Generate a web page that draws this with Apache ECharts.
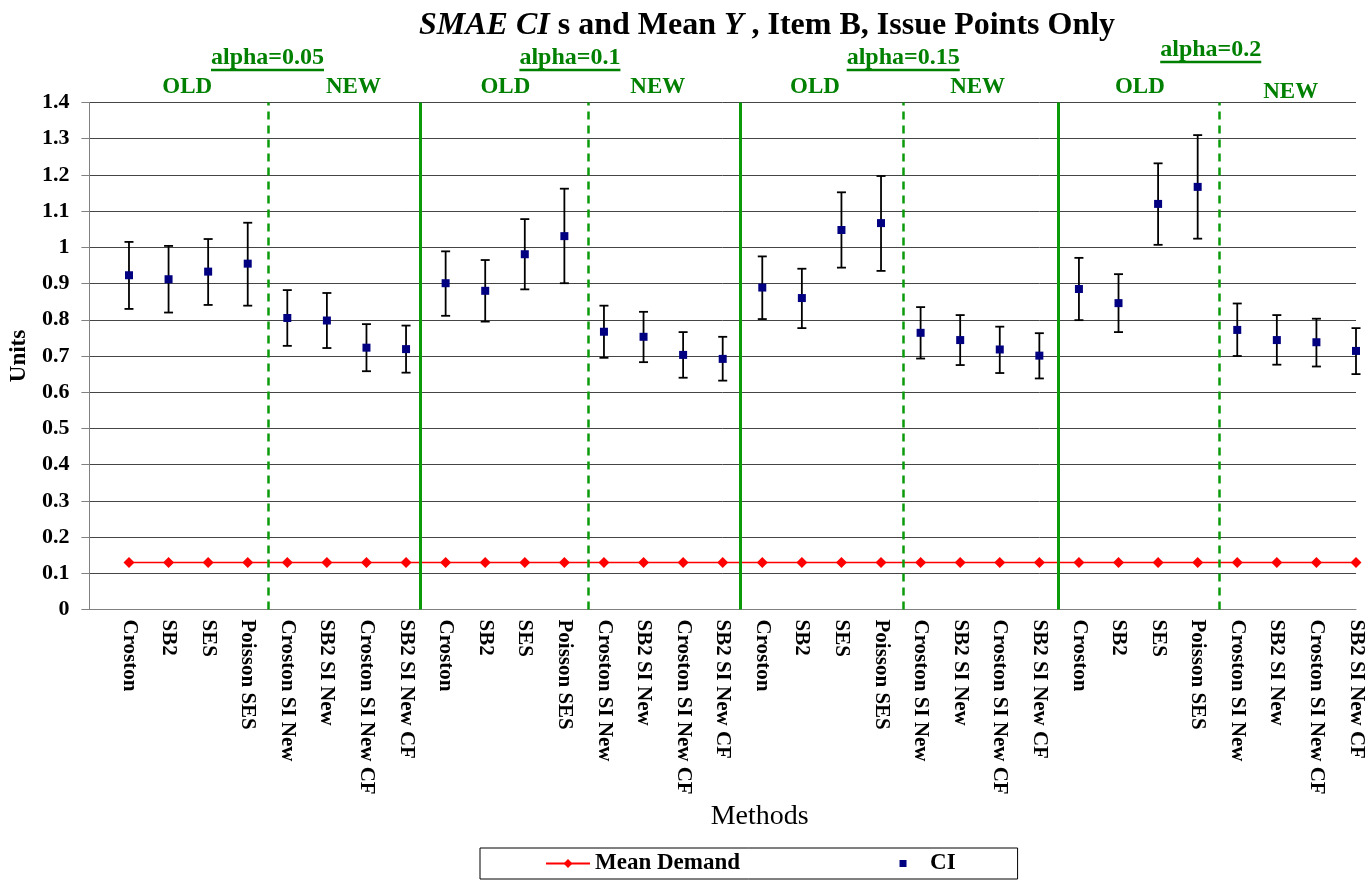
<!DOCTYPE html>
<html>
<head>
<meta charset="utf-8">
<title>SMAE CIs and Mean Y, Item B, Issue Points Only</title>
<script src="https://cdn.jsdelivr.net/npm/echarts@6/dist/echarts.min.js"></script>
<style>
  html, body { margin: 0; padding: 0; background: #ffffff; }
  #chart { width: 1368px; height: 882px; }
</style>
</head>
<body>
<div id="chart"></div>
<script>
// ---- data ----
const methods = ['Croston', 'SB2', 'SES', 'Poisson SES',
                 'Croston SI New', 'SB2 SI New', 'Croston SI New CF', 'SB2 SI New CF'];
const alphas = ['0.05', '0.1', '0.15', '0.2'];
const phases = ['OLD', 'NEW'];
// one category per method within each alpha block
const categories = alphas.flatMap(() => methods);

const meanDemand = [0.13, 0.13, 0.13, 0.13, 0.13, 0.13, 0.13, 0.13,
                    0.13, 0.13, 0.13, 0.13, 0.13, 0.13, 0.13, 0.13,
                    0.13, 0.13, 0.13, 0.13, 0.13, 0.13, 0.13, 0.13,
                    0.13, 0.13, 0.13, 0.13, 0.13, 0.13, 0.13, 0.13];

const ciMean = [0.923, 0.912, 0.933, 0.955, 0.805, 0.798, 0.723, 0.719,
                0.901, 0.880, 0.981, 1.031, 0.767, 0.753, 0.703, 0.692,
                0.889, 0.860, 1.048, 1.067, 0.764, 0.744, 0.718, 0.701,
                0.885, 0.846, 1.120, 1.167, 0.772, 0.744, 0.738, 0.714];
const ciLow  = [0.830, 0.820, 0.841, 0.839, 0.728, 0.722, 0.658, 0.654,
                0.811, 0.795, 0.884, 0.901, 0.695, 0.683, 0.640, 0.632,
                0.802, 0.777, 0.944, 0.935, 0.693, 0.675, 0.653, 0.638,
                0.799, 0.766, 1.007, 1.024, 0.700, 0.676, 0.671, 0.650];
const ciHigh = [1.015, 1.004, 1.023, 1.068, 0.882, 0.874, 0.788, 0.784,
                0.989, 0.965, 1.078, 1.162, 0.839, 0.822, 0.766, 0.753,
                0.975, 0.941, 1.152, 1.197, 0.835, 0.813, 0.781, 0.763,
                0.971, 0.926, 1.232, 1.310, 0.845, 0.813, 0.803, 0.777];

// ---- layout (axis units along x) ----
const oldNewDividers = [4.52, 12.61, 20.57, 28.54];   // dashed
const alphaDividers  = [8.37, 16.45, 24.48];          // solid
const alphaLabelAt   = [4.50, 12.14, 20.56, 28.33];
const alphaLabelY    = [58, 58, 58, 50];
const phaseLabelAt   = [2.47, 6.67, 10.51, 14.36, 18.33, 22.44, 26.54, 30.35];
const phaseLabelY    = [87, 87, 87, 87, 87, 87, 87, 92];

const SERIF = '"Liberation Serif", "Times New Roman", Times, serif';
const GREEN_TEXT = '#008000';
const GREEN_LINE = '#0a9a0a';

const chart = echarts.init(document.getElementById('chart'), null, { renderer: 'canvas' });

const option = {
  animation: false,
  backgroundColor: '#ffffff',
  grid: { left: 88, right: 12, top: 102.5, bottom: 272.5 },
  xAxis: {
    type: 'value',
    min: 0,
    max: 32,
    interval: 1,
    axisLine: { show: true, onZero: false, lineStyle: { color: '#808080', width: 1 } },
    axisTick: { show: false },
    splitLine: { show: false },
    axisLabel: {
      rotate: -90,
      margin: 10,
      fontFamily: SERIF,
      fontWeight: 'bold',
      fontSize: 21,
      color: '#000000',
      padding: [0, 0, 6, 0],
      showMinLabel: false,
      showMaxLabel: true,
      formatter: v => categories[Math.round(v) - 1] || ''
    },
    name: 'Methods',
    nameLocation: 'middle',
    nameGap: 193,
    nameTextStyle: { fontFamily: SERIF, fontSize: 28, color: '#000000', padding: [0, 0, 0, 74] }
  },
  yAxis: {
    type: 'value',
    min: 0,
    max: 1.4,
    interval: 0.1,
    axisLine: { show: true, lineStyle: { color: '#808080', width: 1 } },
    axisTick: { show: true, length: 8, lineStyle: { color: '#808080' } },
    splitLine: { show: true, lineStyle: { color: '#454545', width: 1 } },
    axisLabel: {
      margin: 20,
      fontFamily: SERIF,
      fontWeight: 'bold',
      fontSize: 22,
      color: '#000000',
      formatter: v => String(+v.toFixed(1))
    },
    name: 'Units',
    nameLocation: 'middle',
    nameGap: 55,
    nameRotate: 90,
    nameTextStyle: { fontFamily: SERIF, fontWeight: 'bold', fontSize: 23, color: '#000000' }
  },
  legend: {
    left: 480,
    top: 848,
    orient: 'horizontal',
    selectedMode: false,
    borderColor: '#000000',
    borderWidth: 1,
    padding: [4, 62, 4, 65],
    itemGap: 141,
    itemWidth: 44,
    itemHeight: 11,
    textStyle: { fontFamily: SERIF, fontWeight: 'bold', fontSize: 23, color: '#000000' },
    data: [
      { name: 'Mean Demand' },
      { name: 'CI', icon: 'path://M0,0M44,11M18.5,2h7v7h-7z' }
    ]
  },
  series: [
    {
      name: 'Mean Demand',
      type: 'line',
      data: meanDemand.map((v, i) => [i + 1, v]),
      symbol: 'diamond',
      symbolSize: 11,
      itemStyle: { color: '#ff0000' },
      lineStyle: { color: '#ff0000', width: 1.5 },
      z: 3,
      markLine: {
        silent: true,
        symbol: ['none', 'none'],
        label: { show: false },
        emphasis: { disabled: true },
        data: [
          ...oldNewDividers.map(x => ({ xAxis: x, lineStyle: { color: GREEN_LINE, width: 2.5, type: [8, 6] } })),
          ...alphaDividers.map(x => ({ xAxis: x, lineStyle: { color: GREEN_LINE, width: 3, type: 'solid' } }))
        ]
      }
    },
    {
      name: 'CI range',
      type: 'custom',
      data: ciLow.map((lo, i) => [i + 1, lo, ciHigh[i]]),
      encode: { x: 0, y: [1, 2] },
      z: 4,
      renderItem: (params, api) => {
        const x = api.value(0);
        const lo = api.coord([x, api.value(1)]);
        const hi = api.coord([x, api.value(2)]);
        const w = 4.5;
        const style = { stroke: '#000000', lineWidth: 1.8 };
        return {
          type: 'group',
          children: [
            { type: 'line', shape: { x1: lo[0], y1: lo[1], x2: hi[0], y2: hi[1] }, style },
            { type: 'line', shape: { x1: lo[0] - w, y1: lo[1], x2: lo[0] + w, y2: lo[1] }, style },
            { type: 'line', shape: { x1: hi[0] - w, y1: hi[1], x2: hi[0] + w, y2: hi[1] }, style }
          ]
        };
      }
    },
    {
      name: 'CI',
      type: 'scatter',
      data: ciMean.map((v, i) => [i + 1, v]),
      symbol: 'rect',
      symbolSize: 8,
      itemStyle: { color: '#000080', opacity: 1 },
      z: 5
    }
  ]
};

chart.setOption(option);

// ---- title and group headings ----
const measure = (() => {
  const ctx = document.createElement('canvas').getContext('2d');
  return (text, font) => { ctx.font = font; return ctx.measureText(text).width; };
})();

const px = v => chart.convertToPixel({ xAxisIndex: 0 }, v);
const headFont = 'bold 24px ' + SERIF;
const graphics = [];

graphics.push({
  type: 'text',
  x: 767,
  y: 26,
  style: {
    text: '{i|SMAE CI}{n| s and Mean }{i|Y}{n| , Item B, Issue Points Only}',
    align: 'center',
    verticalAlign: 'middle',
    rich: {
      i: { fontFamily: SERIF, fontSize: 32, fontWeight: 'bold', fontStyle: 'italic', fill: '#000000' },
      n: { fontFamily: SERIF, fontSize: 32, fontWeight: 'bold', fill: '#000000' }
    }
  }
});

alphas.forEach((a, k) => {
  const text = 'alpha=' + a;
  const cx = px(alphaLabelAt[k]);
  const cy = alphaLabelY[k];
  const w = measure(text, headFont);
  graphics.push({
    type: 'text', x: cx, y: cy,
    style: { text, font: headFont, fill: GREEN_TEXT, align: 'center', verticalAlign: 'middle' }
  });
  graphics.push({
    type: 'line',
    shape: { x1: cx - w / 2, y1: cy + 12, x2: cx + w / 2, y2: cy + 12 },
    style: { stroke: GREEN_TEXT, lineWidth: 2.5 }
  });
});

phaseLabelAt.forEach((at, k) => {
  graphics.push({
    type: 'text', x: px(at), y: phaseLabelY[k],
    style: { text: phases[k % 2], font: 'bold 23px ' + SERIF, fill: GREEN_TEXT, align: 'center', verticalAlign: 'middle' }
  });
});

chart.setOption({ graphic: graphics });
</script>
</body>
</html>
